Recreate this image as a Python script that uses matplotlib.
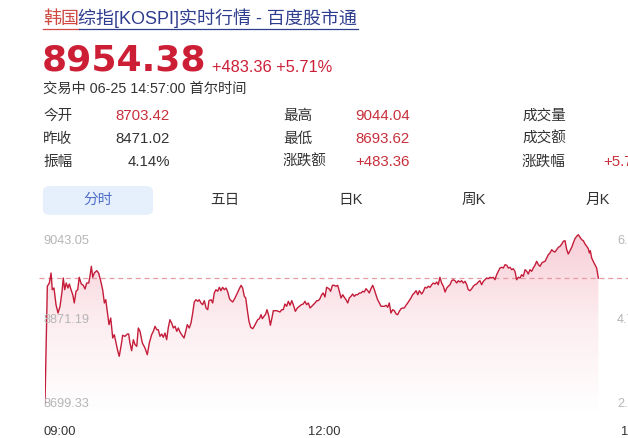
import numpy as np
import matplotlib
matplotlib.use('Agg')
import matplotlib.pyplot as plt
from matplotlib.lines import Line2D
from matplotlib.patches import FancyBboxPatch

plt.rcParams['font.family'] = ['Liberation Sans', 'Noto Sans CJK SC']

# ---- data ----
title_hl = '韩国'
title_rest = '综指[KOSPI]实时行情 - 百度股市通'
last_price = 8954.38
change_text = '+483.36 +5.71%'
status_text = '交易中 06-25 14:57:00 首尔时间'
prev_close = 8471.02

stats_labels = [['今开', '昨收', '振幅'], ['最高', '最低', '涨跌额'], ['成交量', '成交额', '涨跌幅']]
stats_values = [['8703.42', '8471.02', '4.14%'], ['9044.04', '8693.62', '+483.36'], ['', '', '+5.71%']]
stats_red = [[True, False, False], [True, True, True], [False, False, True]]

tabs = ['分时', '五日', '日K', '周K', '月K']

y_ticks = [9043.05, 8871.19, 8699.33]
x_ticks = [0, 180, 390]
x_tick_labels = ['09:00', '12:00', '15:30']

# minutes after 09:00, index value
minutes = [0, 1.5, 2.8, 3.9, 4.7, 5.8, 7.1, 8.4, 9.7, 11.0, 11.8, 12.7, 13.7, 14.8, 15.7, 16.8, 17.9, 18.9,
           20.0, 21.1, 22.1, 23.4, 24.7, 25.8, 26.9, 28.2, 29.0, 29.9, 30.8, 31.8, 33.4, 34.6, 35.9, 37.2,
           38.3, 39.2, 40.2, 41.3, 42.4, 43.7, 44.7, 45.8, 46.9, 47.9, 49.2, 50.1, 51.6, 53.1, 54.0, 54.8,
           55.9, 57.0, 58.1, 59.2, 60.2, 61.3, 62.8, 64.5, 66.0, 67.3, 68.8, 69.9, 71.0, 72.1, 73.1, 74.2,
           75.3, 76.3, 77.4, 78.5, 79.5, 80.6, 81.7, 82.8, 83.9, 85.0, 86.0, 87.1, 88.2, 89.7, 90.8, 91.8,
           93.1, 94.2, 95.3, 96.3, 97.4, 98.5, 99.5, 100.6, 101.7, 102.8, 103.9, 105.0, 105.8, 107.1, 108.2,
           109.2, 110.3, 111.4, 112.5, 113.5, 114.6, 115.7, 116.8, 117.9, 118.9, 119.4, 121.1, 122.6, 124.1,
           125.4, 126.5, 127.5, 128.6, 129.5, 130.5, 131.6, 132.7, 134.0, 135.0, 136.1, 137.2, 138.3, 139.4,
           140.2, 141.3, 142.4, 143.2, 144.3, 145.4, 146.5, 147.3, 148.4, 149.5, 150.5, 151.6, 152.7, 153.7,
           154.8, 155.9, 157.0, 158.1, 159.2, 160.2, 161.5, 162.8, 164.1, 165.4, 166.6, 167.7, 168.8, 169.9,
           171.0, 172.1, 173.1, 174.2, 175.3, 176.3, 177.4, 178.5, 179.5, 180.6, 181.7, 183.2, 184.3, 185.4,
           186.6, 187.7, 188.8, 189.9, 191.0, 192.1, 193.1, 194.2, 195.3, 196.3, 197.4, 198.5, 199.5, 200.6,
           201.7, 202.8, 203.9, 205.0, 206.0, 207.1, 208.2, 209.2, 210.3, 211.4, 212.5, 213.5, 214.6, 215.7,
           216.8, 217.9, 218.9, 220.0, 221.1, 222.1, 223.2, 224.3, 225.4, 226.5, 227.5, 228.6, 229.7, 230.8,
           231.8, 232.9, 234.0, 235.0, 236.1, 237.2, 238.3, 239.4, 240.5, 241.5, 243.0, 244.1, 245.2, 246.3,
           247.3, 248.4, 249.5, 250.5, 251.6, 252.7, 253.7, 254.8, 255.9, 257.0, 258.1, 259.2, 260.2, 261.3,
           262.4, 263.4, 264.5, 265.6, 266.6, 267.7, 268.8, 269.9, 271.0, 272.1, 273.1, 274.2, 275.3, 276.3,
           277.4, 278.5, 279.5, 280.6, 281.7, 282.8, 283.9, 285.0, 286.0, 287.1, 288.2, 289.2, 290.3, 291.4,
           292.5, 293.5, 294.6, 295.7, 296.8, 297.9, 298.9, 300.0, 301.1, 302.1, 303.2, 304.3, 305.4, 306.5,
           307.5, 308.6, 309.7, 310.8, 311.8, 312.9, 314.0, 315.0, 316.1, 317.2, 318.3, 319.4, 320.5, 321.5,
           322.6, 323.7, 324.7, 325.8, 326.9, 327.9, 329.0, 330.1, 331.2, 332.3, 333.4, 334.4, 335.5, 336.6,
           337.6, 338.7, 339.8, 340.8, 341.9, 343.0, 344.1, 345.2, 346.3, 347.3, 348.4, 349.5, 350.5, 351.2,
           351.8, 352.7, 353.7, 354.8, 355.9, 357.0]
prices = [8699.3, 8937.7, 8944.4, 8964.8, 8930.7, 8934.2, 8900.1, 8883.1, 8896.8, 8927.5, 8954.6, 8930.7,
          8944.4, 8934.2, 8942.4, 8930.7, 8920.5, 8903.6, 8927.5, 8930.7, 8956.1, 8942.4, 8939.7, 8932.2,
          8944.4, 8944.4, 8958.1, 8978.5, 8956.1, 8964.8, 8969.5, 8964.8, 8949.1, 8930.7, 8903.6, 8910.3,
          8886.6, 8859.3, 8872.9, 8832.1, 8838.8, 8821.9, 8806.1, 8794.7, 8818.4, 8837.6, 8835.5, 8840.2,
          8840.2, 8821.9, 8806.1, 8828.6, 8818.4, 8815.1, 8852.5, 8845.8, 8821.9, 8811.7, 8798.0, 8821.9,
          8838.8, 8845.8, 8856.0, 8849.0, 8849.0, 8835.5, 8840.2, 8833.5, 8842.3, 8828.6, 8852.5, 8869.4,
          8862.7, 8852.5, 8856.0, 8845.8, 8852.5, 8844.3, 8838.8, 8832.1, 8845.8, 8859.3, 8852.5, 8862.7,
          8883.1, 8905.6, 8910.3, 8907.0, 8910.3, 8903.6, 8900.1, 8908.3, 8893.4, 8889.9, 8908.3, 8910.3,
          8903.6, 8924.0, 8930.7, 8927.5, 8935.6, 8928.7, 8935.6, 8930.7, 8934.2, 8926.0, 8913.8, 8910.3,
          8905.6, 8913.8, 8924.0, 8932.8, 8939.7, 8934.2, 8917.2, 8913.8, 8889.9, 8866.2, 8853.9, 8851.1,
          8856.0, 8862.7, 8869.4, 8871.5, 8879.7, 8871.5, 8876.4, 8881.1, 8889.9, 8878.4, 8858.0, 8874.4,
          8887.8, 8887.8, 8887.8, 8886.6, 8885.2, 8889.9, 8889.9, 8901.5, 8896.8, 8907.0, 8898.9, 8908.3,
          8900.1, 8886.6, 8893.4, 8896.8, 8900.1, 8901.5, 8907.0, 8900.1, 8903.6, 8893.4, 8896.8, 8900.1,
          8903.6, 8908.3, 8908.3, 8912.4, 8920.5, 8924.0, 8915.8, 8935.6, 8932.8, 8927.5, 8939.7, 8939.7,
          8937.7, 8939.7, 8927.5, 8913.8, 8920.5, 8915.2, 8910.3, 8903.6, 8913.8, 8917.2, 8921.9, 8917.2,
          8920.5, 8920.5, 8924.0, 8924.0, 8927.5, 8926.0, 8932.8, 8928.7, 8924.0, 8932.8, 8939.7, 8930.7,
          8920.5, 8910.3, 8903.6, 8896.8, 8896.8, 8896.8, 8898.9, 8894.8, 8903.6, 8883.1, 8889.9, 8887.8,
          8881.1, 8879.7, 8886.6, 8891.9, 8893.4, 8893.4, 8898.9, 8903.6, 8908.3, 8913.8, 8920.5, 8924.0,
          8928.7, 8920.5, 8928.7, 8921.9, 8927.5, 8935.6, 8934.2, 8937.7, 8935.6, 8940.9, 8944.4, 8942.4,
          8946.4, 8940.9, 8956.1, 8944.4, 8937.7, 8926.0, 8934.2, 8937.7, 8940.9, 8949.1, 8951.1, 8949.1,
          8944.4, 8949.1, 8946.4, 8949.1, 8944.4, 8947.9, 8940.9, 8930.7, 8928.7, 8932.8, 8937.7, 8940.9,
          8942.4, 8946.4, 8949.1, 8940.9, 8947.9, 8951.1, 8954.6, 8953.2, 8956.1, 8954.6, 8956.1, 8951.1,
          8961.4, 8968.3, 8975.0, 8976.5, 8975.0, 8981.8, 8980.6, 8975.0, 8976.5, 8971.6, 8973.6, 8968.3,
          8951.1, 8956.1, 8954.6, 8961.4, 8958.1, 8971.6, 8968.3, 8962.8, 8971.6, 8968.3, 8975.0, 8980.6,
          8988.7, 8981.8, 8978.5, 8985.3, 8987.3, 8988.7, 8995.5, 9002.2, 9005.7, 9012.4, 9009.2, 9007.7,
          9012.4, 9017.3, 9019.4, 9024.1, 9029.6, 9030.8, 9012.4, 9003.6, 9010.4, 9017.3, 9026.1, 9034.9,
          9039.8, 9043.05, 9037.7, 9032.8, 9030.8, 9024.1, 9019.4, 9014.5, 9005.7, 9010.4, 8995.5, 8988.7,
          8981.8, 8975.0, 8954.38]

W, H = 628, 438
fig = plt.figure(figsize=(W / 100, H / 100), dpi=100)
fig.patch.set_facecolor('white')


def fx(x):
    return x / W


def fy(y):
    return 1 - y / H


red = '#cc1f36'
dark = '#333333'
grey = '#b5b5b5'

# ---- header ----
fig.text(fx(43), fy(24), title_hl, fontsize=13.0, color='#cf4b42', va='baseline')
fig.text(fx(78.5), fy(24), title_rest, fontsize=13.0, color='#2f3d8f', va='baseline')
fig.add_artist(Line2D([fx(43), fx(78.5)], [fy(28.5), fy(28.5)], color='#cf4b42', lw=0.9))
fig.add_artist(Line2D([fx(78.5), fx(358)], [fy(28.5), fy(28.5)], color='#2f3d8f', lw=0.9))

fig.text(fx(42), fy(70.5), '%.2f' % last_price, fontsize=26.0, fontweight='bold',
         family=['DejaVu Sans'], color=red, va='baseline')
fig.text(fx(212), fy(72), change_text, fontsize=11.8, color=red, va='baseline')
fig.text(fx(43), fy(88.5), status_text, fontsize=10.3, color=dark, va='center')

# ---- stats table ----
row_y = [116, 139, 161.5]
label_x = [43, 283, 522]
value_right = [170, 410, 655]
for c in range(3):
    for r in range(3):
        fig.text(fx(label_x[c]), fy(row_y[r]), stats_labels[c][r], fontsize=10.5, color=dark, va='center')
        if stats_values[c][r]:
            col = '#c8303c' if stats_red[c][r] else dark
            fig.text(fx(value_right[c]), fy(row_y[r]), stats_values[c][r], fontsize=10.8,
                     color=col, va='center', ha='right')

# ---- tabs ----
box = FancyBboxPatch((fx(43), fy(215)), fx(110), 29 / H, boxstyle='round,pad=0,rounding_size=0.012',
                     transform=fig.transFigure, facecolor='#e6f0fd', edgecolor='none')
fig.add_artist(box)
tab_x = [98, 225, 351, 474, 598]
for i, t in enumerate(tabs):
    fig.text(fx(tab_x[i]), fy(200), t, fontsize=10.5, color='#4e6ec8' if i == 0 else dark,
             ha='center', va='center')

# ---- chart ----
left_px, right_px = 45, 649.5
top_px, bot_px = 228, 412
ax = fig.add_axes([fx(left_px), fy(bot_px), (right_px - left_px) / W, (bot_px - top_px) / H])
ax.set_xlim(0, 390)
span = y_ticks[0] - y_ticks[2]
ax.set_ylim(y_ticks[2] - span * 0.0535, y_ticks[0] + span * 0.0398)
ax.axis('off')

x = np.array(minutes)
y = np.array(prices)
ymin = ax.get_ylim()[0]
poly = ax.fill_between(x, y, ymin, color='none')
grad = np.linspace(0, 1, 256).reshape(-1, 1)
cmap = matplotlib.colors.LinearSegmentedColormap.from_list(
    'g', [(1, 1, 1, 1), (0.99, 0.93, 0.94, 1), (0.97, 0.80, 0.84, 1)])
img = ax.imshow(grad, extent=[0, 390, ymin, y_ticks[0] + span * 0.0398], origin='lower',
                aspect='auto', cmap=cmap, zorder=1)
img.set_clip_path(poly.get_paths()[0], transform=ax.transData)
ax.plot(x, y, color='#c41d3a', lw=1.0, zorder=3)
ax.axhline(last_price, color='#e59aa4', lw=0.9, ls=(0, (4, 3)), zorder=2, xmin=-0.01, clip_on=False)

# y labels left (price) and right (percent)
for i, v in enumerate(y_ticks):
    yy = fy(top_px + (ax.get_ylim()[1] - v) / (ax.get_ylim()[1] - ax.get_ylim()[0]) * (bot_px - top_px))
    off = [-6, -1.5, -1.5][i] / H
    fig.text(fx(43), yy + off, '%.2f' % v, fontsize=9.2, color=grey, va='center')
    pct = (v - prev_close) / prev_close * 100
    fig.text(fx(617), yy + off, '%.2f%%' % pct, fontsize=9.2, color=grey, va='center')

# x labels
fig.text(fx(43), fy(432), x_tick_labels[0], fontsize=9.3, color=dark, va='center', ha='left')
fig.text(fx(left_px + x_ticks[1] / 390 * (right_px - left_px)), fy(432), x_tick_labels[1],
         fontsize=9.3, color=dark, va='center', ha='center')
fig.text(fx(653), fy(432), x_tick_labels[2], fontsize=9.3, color=dark, va='center', ha='right')

plt.savefig('out.png', dpi=100)
plt.close()
